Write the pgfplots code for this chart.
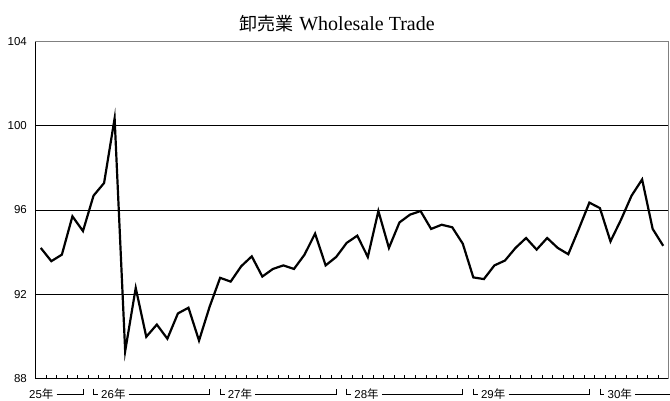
\documentclass[border=0pt]{standalone}
\usepackage{fontspec}
\setmainfont{Liberation Serif}
\newfontfamily\cjk{Noto Sans CJK JP}
\newfontfamily\labelfont{Liberation Sans}
\usepackage{pgfplots}
\pgfplotsset{compat=1.18}
\usepackage{pgfplotstable}
\pgfplotstableread{
i v
0 94.2
1 93.57
2 93.88
3 95.7
4 95.0
5 96.68
6 97.28
7 100.35
8 89.3
9 92.3
10 89.98
11 90.56
12 89.89
13 91.09
14 91.36
15 89.8
16 91.4
17 92.78
18 92.6
19 93.33
20 93.8
21 92.84
22 93.2
23 93.37
24 93.2
25 93.88
26 94.88
27 93.37
28 93.77
29 94.44
30 94.78
31 93.77
32 95.95
33 94.2
34 95.41
35 95.78
36 95.95
37 95.1
38 95.3
39 95.18
40 94.4
41 92.8
42 92.72
43 93.37
44 93.6
45 94.2
46 94.67
47 94.12
48 94.67
49 94.2
50 93.9
51 95.1
52 96.35
53 96.09
54 94.51
55 95.54
56 96.68
57 97.45
58 95.1
59 94.3
}\datatable
\newcommand{\yl}{\labelfont\fontsize{11.5bp}{12bp}\selectfont}
\newcommand{\yr}[1]{{\yl #1}{\cjk\fontsize{11.5bp}{12bp}\selectfont 年}}
\begin{document}
\begin{tikzpicture}
\path[use as bounding box] (-35.5bp,-22.5bp) rectangle (634.5bp,378.5bp);
\begin{axis}[
  at={(0,0)}, anchor=south west,
  scale only axis,
  width=633bp, height=337bp,
  xmin=-0.5, xmax=59.5,
  ymin=88, ymax=104,
  ytick={88,92,96,100,104},
  yticklabel style={font=\yl, anchor=east, inner sep=0pt, xshift=-8.5bp},
  /pgf/number format/assume math mode=true,
  xtick={0.5,1.5,...,58.5},
  xticklabels={},
  xtick pos=bottom,
  tick align=inside,
  major tick length=3bp,
  ytick style={draw=none},
  xtick style={black, line width=0.6bp},
  ymajorgrids,
  grid style={black, line width=0.75bp},
  axis line style={black, line width=0.75bp},
  clip=false,
]
\addplot[black, line width=2.2bp, mark=none] table[x=i, y=v] {\datatable};
\draw[gray, line width=0.9bp] (rel axis cs:0,1) -- (rel axis cs:1,1) -- (rel axis cs:1,0);
% year labels
\def\ly{-15.5bp}
\def\ty{-10bp}
% 25
\node[anchor=west, inner sep=0pt] (y25) at ([xshift=-6.5bp, yshift=\ly]rel axis cs:0,0) {\yr{25}};
\draw[black, line width=0.7bp] ([xshift=3bp]y25.east) -- ([yshift=\ly]axis cs:4,88) -- ([yshift=\ty]axis cs:4,88);
% 26
\draw[black, line width=0.7bp] ([yshift=\ty]axis cs:5,88) -- ([yshift=\ly]axis cs:5,88) -- ([xshift=4.5bp, yshift=\ly]axis cs:5,88);
\node[anchor=west, inner sep=0pt] (y26) at ([xshift=7.5bp, yshift=\ly]axis cs:5,88) {\yr{26}};
\draw[black, line width=0.7bp] ([xshift=3bp]y26.east) -- ([yshift=\ly]axis cs:16,88) -- ([yshift=\ty]axis cs:16,88);
% 27
\draw[black, line width=0.7bp] ([yshift=\ty]axis cs:17,88) -- ([yshift=\ly]axis cs:17,88) -- ([xshift=4.5bp, yshift=\ly]axis cs:17,88);
\node[anchor=west, inner sep=0pt] (y27) at ([xshift=7.5bp, yshift=\ly]axis cs:17,88) {\yr{27}};
\draw[black, line width=0.7bp] ([xshift=3bp]y27.east) -- ([yshift=\ly]axis cs:28,88) -- ([yshift=\ty]axis cs:28,88);
% 28
\draw[black, line width=0.7bp] ([yshift=\ty]axis cs:29,88) -- ([yshift=\ly]axis cs:29,88) -- ([xshift=4.5bp, yshift=\ly]axis cs:29,88);
\node[anchor=west, inner sep=0pt] (y28) at ([xshift=7.5bp, yshift=\ly]axis cs:29,88) {\yr{28}};
\draw[black, line width=0.7bp] ([xshift=3bp]y28.east) -- ([yshift=\ly]axis cs:40,88) -- ([yshift=\ty]axis cs:40,88);
% 29
\draw[black, line width=0.7bp] ([yshift=\ty]axis cs:41,88) -- ([yshift=\ly]axis cs:41,88) -- ([xshift=4.5bp, yshift=\ly]axis cs:41,88);
\node[anchor=west, inner sep=0pt] (y29) at ([xshift=7.5bp, yshift=\ly]axis cs:41,88) {\yr{29}};
\draw[black, line width=0.7bp] ([xshift=3bp]y29.east) -- ([yshift=\ly]axis cs:52,88) -- ([yshift=\ty]axis cs:52,88);
% 30
\draw[black, line width=0.7bp] ([yshift=\ty]axis cs:53,88) -- ([yshift=\ly]axis cs:53,88) -- ([xshift=4.5bp, yshift=\ly]axis cs:53,88);
\node[anchor=west, inner sep=0pt] (y30) at ([xshift=7.5bp, yshift=\ly]axis cs:53,88) {\yr{30}};
\draw[black, line width=0.7bp] ([xshift=3bp]y30.east) -- ([xshift=1bp, yshift=\ly]rel axis cs:1,0);
\end{axis}
\node[anchor=base, inner sep=0pt] at (301.5bp,347.5bp) {{\cjk\fontsize{18bp}{20bp}\selectfont 卸売業}\hspace{6bp}{\fontsize{20bp}{22bp}\selectfont Wholesale Trade}};
\end{tikzpicture}
\end{document}
